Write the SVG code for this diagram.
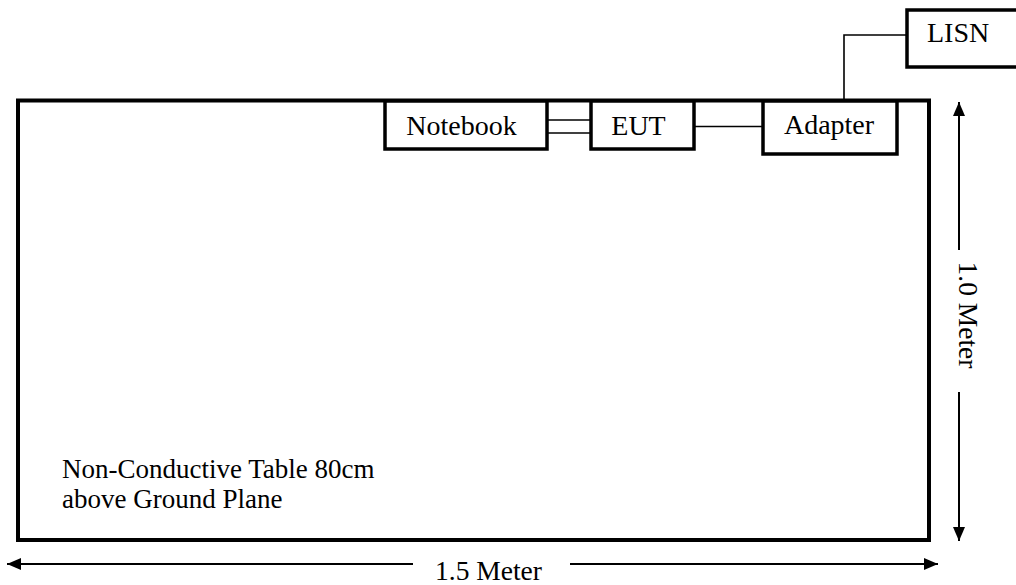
<svg xmlns="http://www.w3.org/2000/svg" width="1016" height="585" viewBox="0 0 1016 585">
<style>
.box{fill:#fff;stroke:#000;stroke-width:3.5}
.tbl{fill:none;stroke:#000;stroke-width:4}
.wire{fill:none;stroke:#000;stroke-width:1.6}
.dim{fill:none;stroke:#000;stroke-width:2}
text{font-family:"Liberation Serif","Times New Roman",serif;font-size:28px;fill:#000}
.dimtxt{font-size:27.5px}
.note{font-size:27px}
</style>
<defs>
<marker id="ah" viewBox="0 0 14 12" refX="14" refY="6" markerWidth="14" markerHeight="12" markerUnits="userSpaceOnUse" orient="auto-start-reverse">
<path d="M0,0 L14,6 L0,12 Z" fill="#000"/>
</marker>
</defs>
<g id="table">
<rect class="tbl" x="18" y="100.5" width="911" height="439.5"/>
<text class="note" x="62" y="478">Non-Conductive Table 80cm</text>
<text class="note" x="62" y="508">above Ground Plane</text>
</g>
<g id="connectors">
<line class="wire" x1="547" y1="120" x2="591" y2="120"/>
<line class="wire" x1="547" y1="133" x2="591" y2="133"/>
<line class="wire" x1="694" y1="126.5" x2="763" y2="126.5"/>
<polyline class="wire" points="844,101 844,35 907,35"/>
</g>
<g id="notebook">
<rect class="box" x="385" y="101" width="162" height="48"/>
<text x="461.5" y="134.5" text-anchor="middle">Notebook</text>
</g>
<g id="eut">
<rect class="box" x="591" y="101" width="103" height="48"/>
<text x="638.5" y="134.5" text-anchor="middle">EUT</text>
</g>
<g id="adapter">
<rect class="box" x="763" y="101" width="134" height="53"/>
<text x="829" y="134" text-anchor="middle">Adapter</text>
</g>
<g id="lisn">
<rect class="box" x="907" y="10" width="120" height="57"/>
<text x="927" y="42">LISN</text>
</g>
<g id="dimensions">
<line class="dim" x1="959" y1="250" x2="959" y2="102" marker-end="url(#ah)"/>
<line class="dim" x1="959" y1="392" x2="959" y2="541" marker-end="url(#ah)"/>
<text class="dimtxt" transform="translate(959,315) rotate(90)" text-anchor="middle">1.0 Meter</text>
<line class="dim" x1="413" y1="564" x2="7" y2="564" marker-end="url(#ah)"/>
<line class="dim" x1="570" y1="564" x2="938" y2="564" marker-end="url(#ah)"/>
<text class="dimtxt" x="488.5" y="580" text-anchor="middle">1.5 Meter</text>
</g>
</svg>
